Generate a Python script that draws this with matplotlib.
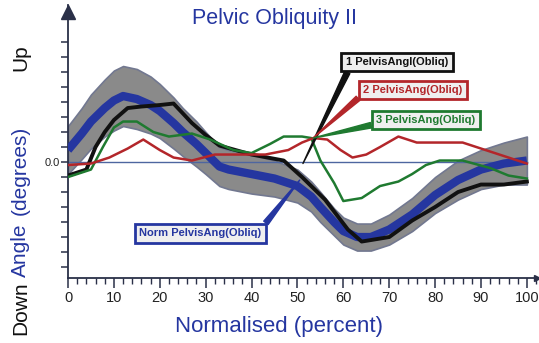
import matplotlib
matplotlib.use('Agg')
import matplotlib.pyplot as plt
from matplotlib.ticker import MultipleLocator, FixedLocator, FixedFormatter

plt.rcParams['font.family'] = ['Liberation Sans', 'DejaVu Sans']

# Normal pelvic obliquity: mean and SD over the gait cycle
norm_pct = [0, 3, 5, 8, 10, 12, 15, 18, 20, 23, 25, 28, 30, 33, 35, 40, 45, 50, 53,
            55, 58, 60, 63, 66, 70, 75, 80, 85, 90, 95, 100]
norm_mean = [0.8, 1.9, 2.7, 3.6, 4.1, 4.4, 4.2, 3.8, 3.4, 2.6, 2.0, 1.2, 0.6, -0.3, -0.5,
             -0.8, -1.1, -1.6, -2.3, -3.0, -4.0, -4.6, -5.0, -5.0, -4.5, -3.5, -2.2,
             -1.2, -0.5, -0.1, 0.1]
norm_sd = [1.6, 1.7, 1.8, 1.9, 2.0, 2.0, 2.0, 1.9, 1.8, 1.7, 1.6, 1.5, 1.4, 1.3, 1.3,
           1.3, 1.2, 1.1, 1.0, 1.0, 0.9, 0.9, 0.9, 0.9, 1.0, 1.1, 1.2, 1.3, 1.3, 1.4, 1.6]

# Trial 1
t1_pct = [0, 4, 6, 8, 10, 13, 16, 20, 23, 27, 30, 33, 40, 47, 51, 56, 61, 64, 70, 75,
          80, 85, 90, 95, 100]
t1_ang = [-0.9, -0.5, 1.0, 2.0, 2.8, 3.6, 3.7, 3.8, 3.9, 2.6, 1.8, 1.1, 0.5, 0.1, -1.0,
          -2.5, -4.5, -5.3, -5.0, -3.9, -3.0, -2.0, -1.5, -1.5, -1.3]

# Trial 2
t2_pct = [0, 5, 9, 13, 16.4, 20, 23, 27, 32, 40, 43, 48, 51, 53.5, 56.5, 59.4, 62, 65,
          68, 72, 76, 80, 86, 91, 96, 100]
t2_ang = [-0.2, -0.1, 0.3, 0.9, 1.5, 0.8, 0.3, 0.1, 0.5, 0.5, 0.5, 0.8, 1.3, 1.6, 1.5,
          0.8, 0.3, 0.5, 1.0, 1.7, 1.3, 1.3, 1.3, 0.8, 0.3, -0.1]

# Trial 3
t3_pct = [0, 5, 7.6, 10, 12, 15, 18.6, 22, 27, 31, 36, 40, 44, 47, 51, 53, 55, 58, 60,
          64, 68, 72, 75, 78, 81, 86, 92, 96, 100]
t3_ang = [-1.0, -0.5, 1.0, 2.3, 2.7, 2.7, 2.0, 1.7, 1.9, 1.5, 0.8, 0.6, 1.2, 1.7, 1.7,
          1.6, 0.1, -1.4, -2.6, -2.4, -1.6, -1.3, -0.8, -0.2, 0.1, 0.1, -0.4, -0.9, -1.1]

trial_names = ['1 PelvisAngI(Obliq)', '2 PelvisAng(Obliq)', '3 PelvisAng(Obliq)']
trial_colors = ['#111111', '#b3262a', '#1f7a30']
norm_name = 'Norm PelvisAng(Obliq)'
blue = '#2536a0'
axis_col = '#2a3048'

fig = plt.figure(figsize=(5.39, 3.43), dpi=100)
ax = fig.add_axes([0.1262, 0.1895, 0.870, 0.796])
ymin, ymax = -7.73, 10.47
ax.set_xlim(0, 102.2)
ax.set_ylim(ymin, ymax)

lo = [m - s for m, s in zip(norm_mean, norm_sd)]
hi = [m + s for m, s in zip(norm_mean, norm_sd)]
ax.fill_between(norm_pct, lo, hi, color='#8a8a8a', ec='#727890', lw=1.2, zorder=1)
ax.axhline(0, xmin=0, xmax=100 / 102.2, color='#4e66a0', lw=1, zorder=2)
ax.plot(norm_pct, norm_mean, color=blue, lw=6, solid_capstyle='butt', zorder=3)
ax.plot(t1_pct, t1_ang, color=trial_colors[0], lw=2.8, zorder=4)
ax.plot(t3_pct, t3_ang, color=trial_colors[2], lw=1.8, zorder=5)
ax.plot(t2_pct, t2_ang, color=trial_colors[1], lw=1.8, zorder=6)

# axes: left and bottom only, with arrow heads
for s in ['top', 'right']:
    ax.spines[s].set_visible(False)
for s in ['left', 'bottom']:
    ax.spines[s].set_color(axis_col)
    ax.spines[s].set_linewidth(1.3)
ax.plot([0], [ymax - 0.45], marker='^', ms=10, color=axis_col, clip_on=False, zorder=7)
ax.plot([102.2], [ymin], marker='>', ms=5, color=axis_col, clip_on=False, zorder=7)

ax.xaxis.set_major_locator(MultipleLocator(10))
ax.xaxis.set_minor_locator(MultipleLocator(2))
ax.tick_params(axis='x', which='major', length=7, width=1.1, color=axis_col,
               labelsize=10.5, labelcolor='#222222', pad=2)
ax.tick_params(axis='x', which='minor', length=4, width=1, color=axis_col)
yt = list(range(-7, 9))
ax.yaxis.set_major_locator(FixedLocator(yt))
ax.yaxis.set_major_formatter(FixedFormatter(['0.0' if v == 0 else '' for v in yt]))
ax.tick_params(axis='y', length=5, width=1.1, color=axis_col, labelsize=8,
               labelcolor='#222222', pad=1)

# labelled leaders
labels = [
    (trial_names[0], trial_colors[0], (51.2, -0.1), (71.7, 6.67), (0.04, 0.0)),
    (trial_names[1], trial_colors[1], (53.4, 1.6), (75.2, 4.8), (0.0, 0.15)),
    (trial_names[2], trial_colors[2], (53.4, 1.6), (78.0, 2.8), (0.0, 0.1)),
    (norm_name, blue, (50.5, -1.2), (28.8, -4.75), (1.0, 0.95)),
]
for txt, col, tip, pos, rel in labels:
    ax.annotate(txt, xy=tip, xytext=pos, ha='center', va='center', fontsize=8,
                fontweight='bold', color=col, zorder=8,
                bbox=dict(boxstyle='square,pad=0.4', fc='#efefef', ec=col, lw=2),
                arrowprops=dict(arrowstyle='wedge,tail_width=0.5', fc=col, ec=col,
                                relpos=rel, shrinkA=0, shrinkB=0))

fig.text(0.51, 0.945, 'Pelvic Obliquity II', ha='center', va='center',
         fontsize=15.5, color=blue)
fig.text(0.518, 0.047, 'Normalised (percent)', ha='center', va='center',
         fontsize=16, color=blue)
for word, yc, col in [('Down', 308, '#111111'), ('Angle', 250, blue),
                      ('(degrees)', 170, blue), ('Up', 58, '#111111')]:
    fig.text(0.038, 1 - yc / 343, word, rotation=90, ha='center', va='center',
             fontsize=15, color=col)

fig.savefig('out.png', dpi=100)
